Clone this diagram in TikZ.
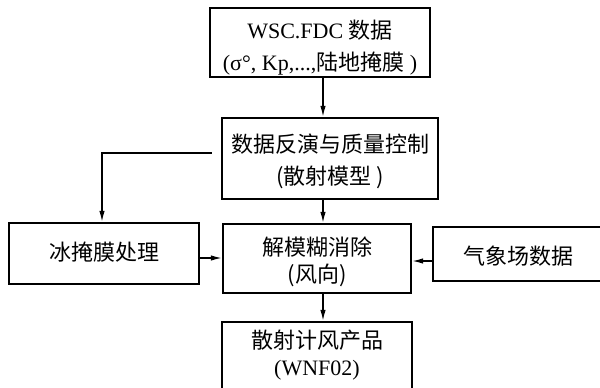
\documentclass[tikz,border=0pt]{standalone}
\usepackage{fontspec}
\setmainfont{Liberation Serif}
\newfontfamily\cjk{Noto Sans CJK SC}
\usetikzlibrary{arrows.meta}
\begin{document}
\begin{tikzpicture}[x=1pt,y=-1pt,
  box/.style={draw, line width=2.3pt, inner sep=0pt},
  txt/.style={inner sep=0pt, align=center},
  widesp/.style={font=\fontsize{22}{32}\selectfont},
  narrowsp/.style={font=\fontsize{22}{27}\selectfont},
  arr/.style={-{Latex[length=11pt,width=5.5pt]}, line width=1.4pt}]
\useasboundingbox (0,0) rectangle (600,388);
\clip (0,0) rectangle (600,388);
\fill[white] (0,0) rectangle (600,388);
% boxes
\node[box, minimum width=220pt, minimum height=69pt] (src) at (320,42.5) {};
\node[box, minimum width=216pt, minimum height=81pt] (inv) at (330,158.5) {};
\node[box, minimum width=190pt, minimum height=61pt] (ice) at (104,253.5) {};
\node[box, minimum width=188pt, minimum height=69pt] (amb) at (317,258.5) {};
\node[box, minimum width=171pt, minimum height=54pt] (met) at (518.5,254) {};
\node[box, minimum width=190pt, minimum height=72pt] (prod) at (317,358) {};
% texts
\node[txt, widesp] (srct) at (320,48)
  {WSC.FDC {\cjk 数据}\\(σ°, Kp,...,{\cjk 陆地掩膜} )};
\node[txt, widesp] (invt) at (330,161)
  {\cjk 数据反演与质量控制\\\cjk (散射模型 )};
\node[txt, narrowsp] (icet) at (104,252) {\cjk 冰掩膜处理};
\node[txt, narrowsp] (ambt) at (317,262) {\cjk 解模糊消除\\\cjk (风向)};
\node[txt, narrowsp] (mett) at (518,256) {\cjk 气象场数据};
\node[txt, narrowsp] (prodt) at (317,355) {\cjk 散射计风产品\\(WNF02)};
% connectors
\coordinate (vx) at (323,0);
\coordinate (lx) at (102,153);
\draw[arr] (src.south -| vx) -- (inv.north -| vx);
\draw[arr] (inv.south -| vx) -- (amb.north -| vx);
\draw[arr] (amb.south -| vx) -- (prod.north -| vx);
\draw[arr, shorten <=9pt] (inv.west |- lx) -- (lx) -- (ice.north -| lx);
\draw[arr] (ice.east |- 0,258) -- (amb.west |- 0,258);
\draw[arr] (met.west |- 0,261) -- (amb.east |- 0,261);
\end{tikzpicture}
\end{document}
